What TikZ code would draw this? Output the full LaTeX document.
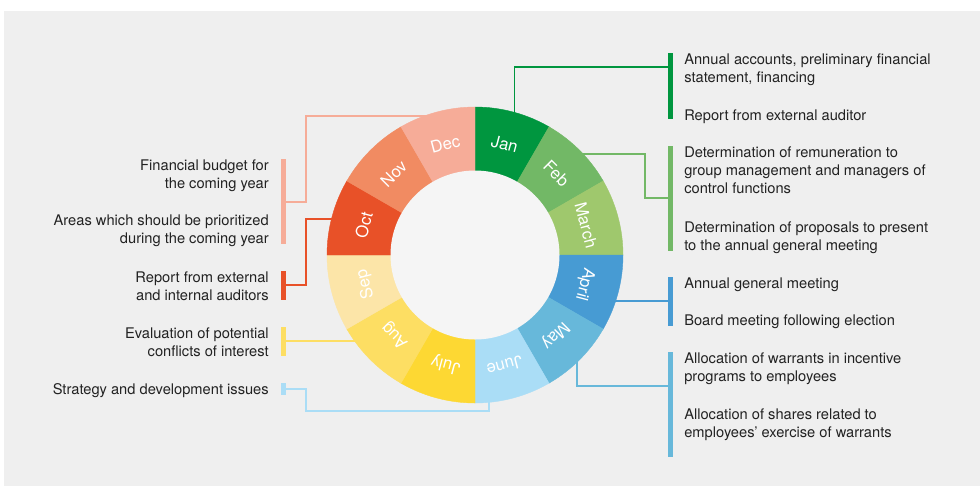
\documentclass[tikz,border=0pt]{standalone}
\usepackage{fontspec}
\setmainfont{TeX Gyre Heros}
\definecolor{panel}{HTML}{EFEFEF}
\definecolor{hub}{HTML}{F5F5F5}
\definecolor{ink}{HTML}{222222}
\definecolor{mJan}{HTML}{00963F}
\definecolor{mFeb}{HTML}{72B866}
\definecolor{mMar}{HTML}{9FC86D}
\definecolor{mApr}{HTML}{479BD3}
\definecolor{mMay}{HTML}{67B8DA}
\definecolor{mJun}{HTML}{AADDF6}
\definecolor{mJul}{HTML}{FDD833}
\definecolor{mAug}{HTML}{FDDE63}
\definecolor{mSep}{HTML}{FCE5A8}
\definecolor{mOct}{HTML}{E85128}
\definecolor{mNov}{HTML}{F18B62}
\definecolor{mDec}{HTML}{F6AC98}

\tikzset{
  conn/.style={line width=1.4pt},
  barnode/.style={rectangle, draw=none, inner sep=0pt, minimum width=3.75pt},
  itemR/.style={inner sep=0pt, anchor=north west, align=left, text=ink,
    font=\fontsize{11}{13.5}\selectfont},
  itemL/.style={inner sep=0pt, anchor=north east, align=right, text=ink,
    font=\fontsize{11}{13.5}\selectfont},
  monthlbl/.style={inner sep=0pt, text=white, text height=9pt, text depth=0pt,
    font=\fontsize{12.5}{14}\selectfont},
}

\begin{document}
\begin{tikzpicture}[x=0.75pt,y=-0.75pt]
\useasboundingbox (0,0) rectangle (980,486);
\fill[white] (0,0) rectangle (980,486);
\fill[panel] (4,11) rectangle (980,486);

% anchor points on the rim of the year wheel
\begin{scope}[shift={(475,255)}, yscale=-1]
  \coordinate (cJan) at (74.3:146);
  \coordinate (cFeb) at (43.7:146);
  \coordinate (cApr) at (-18.4:146);
  \coordinate (cMay) at (-45.7:146);
  \coordinate (cJun) at (-84.6:146);
  \coordinate (cAug) at (215.9:146);
  \coordinate (cOct) at (165.6:146);
  \coordinate (cDec) at (107.7:146);
\end{scope}

% coloured bars beside the agenda items
\node[barnode, fill=mJan, minimum height=49.3pt] (bJan) at (670.5,86.2) {};
\node[barnode, fill=mFeb, minimum height=78.5pt] (bFeb) at (670.5,198.4) {};
\node[barnode, fill=mApr, minimum height=36.3pt] (bApr) at (670.5,301.5) {};
\node[barnode, fill=mMay, minimum height=78.3pt] (bMay) at (670.5,404.5) {};
\node[barnode, fill=mDec, minimum height=64pt] (bDec) at (283,201.7) {};
\node[barnode, fill=mOct, minimum height=22pt] (bOct) at (283,285.4) {};
\node[barnode, fill=mAug, minimum height=21.5pt] (bAug) at (283,341.7) {};
\node[barnode, fill=mJun, minimum height=9pt] (bJun) at (283,389.3) {};

% connectors from the wheel to the bars
\draw[conn, mJan] (cJan) |- (bJan.west |- 0,67);
\draw[conn, mFeb] (cFeb) -| (bFeb.west -| 645,0) -- (bFeb.west);
\draw[conn, mApr] (cApr) -- (cApr -| bApr.west);
\draw[conn, mMay] (cMay) |- (bMay.west |- 0,385.7);
\draw[conn, mJun] (cJun) |- (306,411) |- (bJun.east);
\draw[conn, mAug] (cAug) -- (cAug -| bAug.east);
\draw[conn, mOct] (cOct) -| (bOct.east -| 306,0) -- (bOct.east);
\draw[conn, mDec] (cDec) -| (bDec.east -| 306,0) -- (bDec.east);

% the year wheel
\begin{scope}[shift={(475,255)}, yscale=-1]
  \foreach \a/\c in {90/mJan,60/mFeb,30/mMar,0/mApr,-30/mMay,-60/mJun,
                     -90/mJul,-120/mAug,-150/mSep,-180/mOct,-210/mNov,-240/mDec}
    \fill[\c, draw=\c, line width=0.3pt] (0,0) -- (\a:148) arc[start angle=\a, delta angle=-30, radius=148] -- cycle;
  \fill[hub] (0,0) circle[radius=84.5];
  \foreach \m/\n/\t in {75/Jan/Jan,45/Feb/Feb,15/Mar/March,-15/Apr/April,
                        -45/May/May,-75/Jun/June,-105/Jul/July,-135/Aug/Aug,
                        -165/Sep/Sep,165/Oct/Oct,135/Nov/Nov,105/Dec/Dec}
    \node[monthlbl, rotate=\m-90] (l\n) at (\m:115) {\t};
\end{scope}

% agenda items, right side
\node[itemR] (tJan1) at (684,53.3) {Annual accounts, preliminary financial\\statement, financing};
\node[itemR] (tJan2) at (684,109) {Report from external auditor};
\node[itemR] (tFeb1) at (684,146.7) {Determination of remuneration to\\group management and managers of\\control functions};
\node[itemR] (tFeb2) at (684,221.7) {Determination of proposals to present\\to the annual general meeting};
\node[itemR] (tApr1) at (684,277.7) {Annual general meeting};
\node[itemR] (tApr2) at (684,314.3) {Board meeting following election};
\node[itemR] (tMay1) at (684,352.7) {Allocation of warrants in incentive\\programs to employees};
\node[itemR] (tMay2) at (684,408.3) {Allocation of shares related to\\employees’ exercise of warrants};

% agenda items, left side
\node[itemL] (tDec1) at (269,159.3) {Financial budget for\\the coming year};
\node[itemL] (tDec2) at (269,215) {Areas which should be prioritized\\during the coming year};
\node[itemL] (tOct1) at (269,271) {Report from external\\and internal auditors};
\node[itemL] (tAug1) at (269,327.3) {Evaluation of potential\\conflicts of interest};
\node[itemL] (tJun1) at (269,383.3) {Strategy and development issues};
\end{tikzpicture}
\end{document}
